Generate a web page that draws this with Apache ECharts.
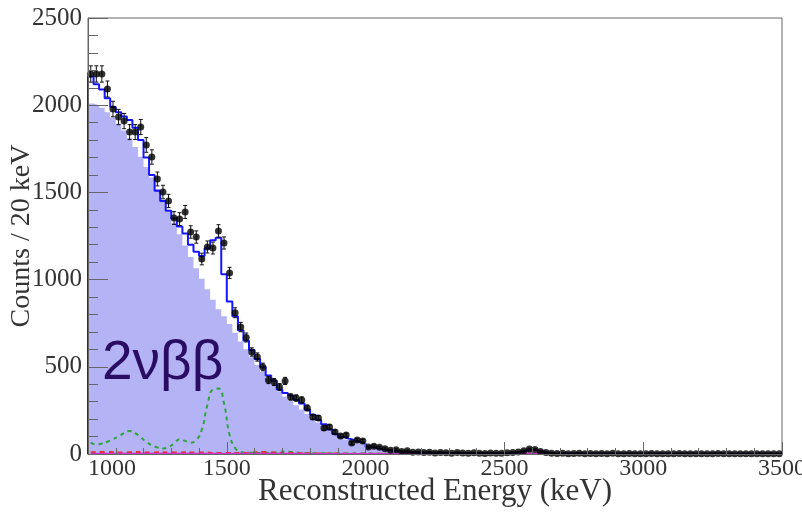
<!DOCTYPE html>
<html lang="en">
<head>
    <meta charset="UTF-8">
    <title>2vbb spectrum</title>
    <script src="https://cdn.jsdelivr.net/npm/echarts@6/dist/echarts.min.js"></script>
    <style>
        html, body { margin: 0; padding: 0; background: #fff; }
        #main { width: 802px; height: 516px; }
    </style>
</head>
<body>
<div id="main"></div>
<script>
    // 20 keV bins from 1000 to 3500 keV (125 bins)
    var binLo = 1000;
    var binW = 20;

    // measured counts per bin (black points)
    var dataCounts = [
        2179, 2179, 2179, 2093, 1978, 1932, 1909, 1846, 1846, 1875,
        1772, 1703, 1577, 1502, 1451, 1353, 1347, 1388, 1273, 1244,
        1118, 1187, 1181, 1279, 1210, 1038, 810, 728, 668, 585,
        556, 499, 424, 413, 384, 419, 327, 321, 310, 264,
        212, 206, 149, 155, 126, 103, 109, 63, 80, 75,
        40, 45, 38, 30, 22, 25, 14, 18, 10, 12,
        8, 10, 6, 9, 7, 5, 8, 6, 4, 7,
        5, 3, 6, 4, 5, 7, 9, 12, 18, 28,
        26, 15, 8, 5, 3, 4, 2, 3, 4, 2,
        3, 1, 3, 2, 4, 2, 1, 3, 2, 1,
        2, 3, 1, 2, 2, 1, 3, 2, 1, 2,
        2, 1, 2, 3, 1, 2, 1, 2, 2, 1,
        2, 1, 2, 1, 2
    ];

    // total fit (blue histogram)
    var fitCounts = [
        2165, 2120, 2090, 2040, 1990, 1960, 1935, 1915, 1870, 1800,
        1700, 1600, 1510, 1450, 1395, 1350, 1305, 1265, 1200, 1160,
        1135, 1180, 1225, 1240, 1030, 875, 790, 710, 650, 596,
        545, 499, 450, 420, 370, 350, 335, 310, 290, 255,
        225, 195, 170, 140, 115, 97, 88, 80, 70, 60,
        42, 35, 28, 23, 19, 16, 13, 11, 10, 9,
        8, 8, 7, 7, 7, 6, 6, 6, 6, 6,
        6, 5, 5, 5, 6, 7, 9, 13, 19, 24,
        22, 14, 8, 5, 4, 4, 3, 3, 3, 3,
        3, 3, 3, 3, 3, 2, 2, 2, 2, 2,
        2, 2, 2, 2, 2, 2, 2, 2, 2, 2,
        2, 2, 2, 2, 2, 2, 2, 2, 2, 2,
        2, 2, 2, 2, 2
    ];

    // 2vbb component (filled histogram)
    var bb2nCounts = [
        2010, 2000, 1985, 1960, 1930, 1895, 1855, 1810, 1760, 1705,
        1645, 1585, 1520, 1455, 1390, 1325, 1260, 1195, 1130, 1065,
        1005, 945, 885, 830, 790, 745, 695, 645, 600, 555,
        510, 470, 430, 395, 360, 330, 305, 280, 255, 230,
        205, 180, 158, 135, 112, 95, 83, 73, 63, 53,
        38, 31, 25, 20, 16, 13, 11, 9, 8, 7,
        6, 6, 5, 5, 5, 4, 4, 3, 3, 2,
        2, 1, 1, 0, 0, 0, 0, 0, 0, 0,
        0, 0, 0, 0, 0, 0, 0, 0, 0, 0,
        0, 0, 0, 0, 0, 0, 0, 0, 0, 0,
        0, 0, 0, 0, 0, 0, 0, 0, 0, 0,
        0, 0, 0, 0, 0, 0, 0, 0, 0, 0,
        0, 0, 0, 0, 0
    ];

    // background components (dashed / solid near the baseline)
    var greenCounts = [
        65, 55, 60, 70, 85, 100, 120, 132, 120, 95,
        70, 50, 38, 32, 40, 60, 85, 75, 65, 80,
        140, 280, 370, 375, 290, 110, 35, 12, 8, 7,
        6, 6, 7, 9, 12, 14, 12, 9, 7, 6,
        5, 5, 4, 4, 4, 3, 3, 3, 3, 3,
        3, 3, 2, 2, 2, 2, 2, 2, 2, 2,
        2, 2, 2, 2, 2, 2, 2, 2, 2, 2,
        2, 2, 2, 2, 2, 2, 3, 4, 6, 8,
        7, 4, 2, 1, 1, 1, 1, 1, 1, 1,
        1, 1, 1, 1, 1, 1, 1, 1, 1, 1,
        1, 1, 1, 1, 1, 1, 1, 1, 1, 1,
        1, 1, 1, 1, 1, 1, 1, 1, 1, 1,
        1, 1, 1, 1, 1
    ];
    var redCounts = [
        10, 10, 12, 12, 10, 8, 8, 10, 12, 10,
        8, 8, 10, 10, 8, 8, 8, 10, 8, 8,
        8, 8, 6, 6, 6, 6, 6, 6, 6, 8,
        10, 12, 10, 8, 6, 6, 6, 5, 5, 5,
        3, 3, 3, 3, 3, 3, 2, 2, 2, 2,
        2, 2, 2, 2, 2, 2, 2, 2, 2, 2,
        2, 2, 2, 2, 2, 2, 2, 2, 2, 2,
        2, 2, 2, 2, 2, 2, 2, 2, 2, 2,
        2, 2, 2, 2, 2, 2, 2, 2, 2, 2,
        2, 2, 2, 2, 2, 2, 2, 2, 2, 2,
        2, 2, 2, 2, 2, 2, 2, 2, 2, 2,
        2, 2, 2, 2, 2, 2, 2, 2, 2, 2,
        2, 2, 2, 2, 2
    ];
    var magentaCounts = [
        3, 3, 3, 3, 3, 3, 3, 3, 3, 3,
        3, 3, 3, 3, 3, 3, 3, 3, 3, 3,
        3, 3, 3, 3, 3, 3, 3, 3, 3, 3,
        3, 3, 3, 3, 3, 3, 3, 3, 3, 3,
        2, 2, 2, 2, 2, 2, 2, 2, 2, 2,
        2, 2, 2, 2, 2, 2, 2, 2, 2, 2,
        2, 2, 2, 2, 2, 2, 2, 2, 2, 2,
        2, 2, 2, 2, 2, 2, 3, 4, 5, 6,
        5, 4, 2, 2, 2, 2, 2, 2, 2, 2,
        2, 2, 2, 2, 2, 2, 2, 2, 2, 2,
        2, 2, 2, 2, 2, 2, 2, 2, 2, 2,
        2, 2, 2, 2, 2, 2, 2, 2, 2, 2,
        2, 2, 2, 2, 2
    ];

    var xTicks = [1000, 1500, 2000, 2500, 3000, 3500];
    var yTicks = [0, 500, 1000, 1500, 2000, 2500];

    // histogram as step line: points at bin left edges
    function stepData(vals) {
        var out = [[binLo, 0]];
        for (var i = 0; i < vals.length; i++) {
            out.push([binLo + i * binW, vals[i]]);
        }
        out.push([binLo + vals.length * binW, vals[vals.length - 1]]);
        return out;
    }
    function centerData(vals) {
        return vals.map(function (v, i) { return [binLo + i * binW + binW / 2, v]; });
    }

    var pts = centerData(dataCounts);
    var errs = dataCounts.map(function (v, i) {
        var e = Math.sqrt(v);
        return [binLo + i * binW + binW / 2, v - e, v + e];
    });

    var serif = 'Liberation Serif';
    var plain = function (v) { return String(v); };
    var myChart = echarts.init(document.getElementById('main'));
    var option = {
        animation: false,
        grid: {
            left: 88, right: 20, top: 18, bottom: 62,
            containLabel: false, outerBoundsMode: 'none',
            show: true, borderColor: '#666', borderWidth: 1
        },
        xAxis: {
            type: 'value', z: 10,
            min: xTicks[0], max: xTicks[xTicks.length - 1], interval: 500,
            name: 'Reconstructed Energy (keV)',
            nameLocation: 'middle', nameGap: 38, nameMoveOverlap: false,
            nameTextStyle: { fontFamily: serif, fontSize: 31, color: '#333', verticalAlign: 'middle' },
            axisLine: { show: true, onZero: false, lineStyle: { color: '#666' } },
            axisTick: { inside: true, length: 12, lineStyle: { color: '#666' } },
            minorTick: { show: true, splitNumber: 5, length: 6, lineStyle: { color: '#666' } },
            splitLine: { show: false },
            axisLabel: { fontFamily: serif, fontSize: 24, color: '#333', margin: 3, formatter: plain, alignMinLabel: 'left' }
        },
        yAxis: {
            type: 'value', z: 10,
            min: yTicks[0], max: yTicks[yTicks.length - 1], interval: 500,
            name: 'Counts / 20 keV',
            nameLocation: 'middle', nameGap: 66, nameMoveOverlap: false,
            nameTextStyle: { fontFamily: serif, fontSize: 28, color: '#333', verticalAlign: 'middle' },
            axisLine: { show: true, lineStyle: { color: '#666' } },
            axisTick: { inside: true, length: 20, lineStyle: { color: '#666' } },
            minorTick: { show: true, splitNumber: 5, length: 10, lineStyle: { color: '#666' } },
            splitLine: { show: false },
            axisLabel: { fontFamily: serif, fontSize: 25, color: '#333', margin: 6, formatter: plain }
        },
        graphic: [{
            type: 'text', left: 102, top: 336, z: 50,
            style: { text: '2\u03bd\u03b2\u03b2', font: '55px "Liberation Sans", Arial, sans-serif', fill: '#2a0d62' }
        }],
        series: [
            {
                name: '2vbb', type: 'line', step: 'end', symbol: 'none',
                data: stepData(bb2nCounts),
                lineStyle: { width: 0 },
                areaStyle: { color: '#b3b3f6', opacity: 1 },
                z: 1
            },
            {
                name: 'bkg1', type: 'line', smooth: true, symbol: 'none',
                data: centerData(greenCounts),
                lineStyle: { color: '#2ea43a', width: 2, type: [4, 4] },
                z: 3
            },
            {
                name: 'bkg2', type: 'line', smooth: true, symbol: 'none',
                data: centerData(redCounts),
                lineStyle: { color: '#e8302a', width: 2, type: [5, 4] },
                z: 3
            },
            {
                name: 'bkg3', type: 'line', symbol: 'none',
                data: centerData(magentaCounts),
                lineStyle: { color: '#cc33cc', width: 1.5 },
                z: 3
            },
            {
                name: 'fit', type: 'line', step: 'end', symbol: 'none',
                data: stepData(fitCounts),
                lineStyle: { color: '#1515ff', width: 2 },
                z: 5
            },
            {
                name: 'err', type: 'custom', z: 6, clip: true,
                data: errs,
                renderItem: function (params, api) {
                    var x = api.value(0);
                    var top = api.coord([x, api.value(2)]);
                    var bot = api.coord([x, api.value(1)]);
                    var st = { stroke: '#111', lineWidth: 1 };
                    return {
                        type: 'group',
                        children: [
                            { type: 'line', shape: { x1: top[0], y1: top[1], x2: bot[0], y2: bot[1] }, style: st },
                            { type: 'line', shape: { x1: top[0] - 2, y1: top[1], x2: top[0] + 2, y2: top[1] }, style: st },
                            { type: 'line', shape: { x1: bot[0] - 2, y1: bot[1], x2: bot[0] + 2, y2: bot[1] }, style: st }
                        ]
                    };
                }
            },
            {
                name: 'data', type: 'scatter', symbol: 'circle', symbolSize: 7,
                data: pts,
                itemStyle: { color: '#000' },
                z: 7
            }
        ]
    };
    myChart.setOption(option);
</script>
</body>
</html>
